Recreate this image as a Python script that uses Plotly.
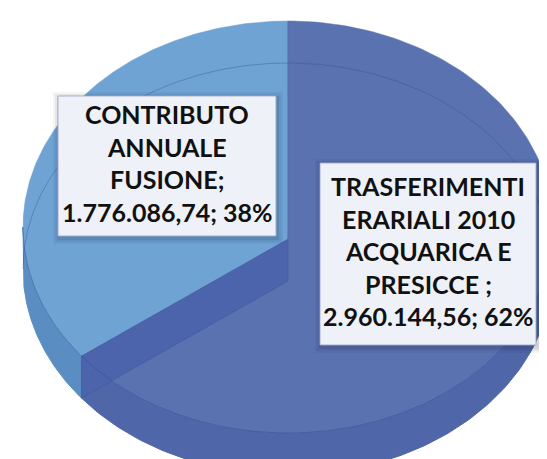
import numpy as np
import plotly.graph_objects as go

# ---- data ----
categories = ["TRASFERIMENTI ERARIALI 2010 ACQUARICA E PRESICCE ", "CONTRIBUTO ANNUALE FUSIONE"]
label_lines = [["TRASFERIMENTI", "ERARIALI 2010", "ACQUARICA E", "PRESICCE "],
               ["CONTRIBUTO", "ANNUALE", "FUSIONE"]]
values = [2960144.56, 1776086.74]

# ---- styles / layout params ----
top_colors = ["#5b72b1", "#6ea3d4"]
side_colors = ["#4f66a8", "#5a8dc1"]
band_color = "#4c64ab"
W, H = 547, 459
CX, CY, RX, RY = 280, 219, 265, 206   # top-face ellipse
VX, VY = 280, 231                     # apex of the wedges
DEPTH = 42
WARP = np.radians(8.8)
label_pos = [(420, 246, 216, 182), (159, 158, 218, 140)]  # x, y, width, height
LINE_STEP = 32.5
TEXT_DY = -3
FONT_SIZE = 25


def phi(theta):
    return theta - WARP * np.sin(theta)


def edge(p, dy=0.0):
    return CX + RX * np.sin(p), CY - RY * np.cos(p) + dy


def it_num(v):
    s = f"{v:,.2f}"
    return s.replace(",", "X").replace(".", ",").replace("X", ".")


total = sum(values)
shares = [v / total for v in values]
bounds = np.concatenate([[0.0], np.cumsum(shares)]) * 2 * np.pi

fig = go.Figure()

# side faces (front half only)
for i in range(len(values)):
    p0, p1 = phi(bounds[i]), phi(bounds[i + 1])
    a, b = max(p0, np.pi / 2), min(p1, 3 * np.pi / 2)
    if b > a:
        ps = np.linspace(a, b, 120)
        xt, yt = edge(ps)
        xb, yb = edge(ps[::-1], DEPTH)
        fig.add_trace(go.Scatter(x=np.r_[xt, xb], y=np.r_[yt, yb], fill="toself",
                                 fillcolor=side_colors[i], mode="lines",
                                 line=dict(color=side_colors[i], width=1),
                                 hoverinfo="skip", showlegend=False))

# top faces
for i in range(len(values)):
    ps = np.linspace(phi(bounds[i]), phi(bounds[i + 1]), 200)
    xe, ye = edge(ps)
    fig.add_trace(go.Scatter(x=np.r_[VX, xe, VX], y=np.r_[VY, ye, VY], fill="toself",
                             fillcolor=top_colors[i], mode="lines",
                             line=dict(color=top_colors[i], width=0.5),
                             hoverinfo="skip", showlegend=False))

# inner wall at slice boundary seen through the top
pb = phi(bounds[1])
bx, by = edge(pb)
fig.add_trace(go.Scatter(x=[VX, bx, bx, VX, VX], y=[VY, by, by + DEPTH, VY + DEPTH, VY],
                         fill="toself", fillcolor=band_color, mode="lines",
                         line=dict(color="rgba(60,80,150,0.5)", width=0.8),
                         hoverinfo="skip", showlegend=False))

# faint back rim of bottom face
ps = np.linspace(-np.pi / 2, np.pi / 2, 200)
xr, yr = edge(ps, DEPTH)
fig.add_trace(go.Scatter(x=xr, y=yr, mode="lines",
                         line=dict(color="rgba(50,70,140,0.35)", width=1),
                         hoverinfo="skip", showlegend=False))
# front edge of top face
ps = np.linspace(np.pi / 2, 3 * np.pi / 2, 200)
xf, yf = edge(ps)
fig.add_trace(go.Scatter(x=xf, y=yf, mode="lines",
                         line=dict(color="rgba(50,70,140,0.45)", width=1),
                         hoverinfo="skip", showlegend=False))

# vertical boundary line
x0, y0 = edge(phi(bounds[0]))
fig.add_trace(go.Scatter(x=[VX, x0], y=[VY, y0], mode="lines",
                         line=dict(color="rgba(70,95,165,0.8)", width=1),
                         hoverinfo="skip", showlegend=False))

# data labels: box + one annotation per line
for i in range(len(values)):
    pct = round(shares[i] * 100)
    lines = label_lines[i][:-1] + [label_lines[i][-1] + ";", f"{it_num(values[i])}; {pct}%"]
    lx, ly, wd, ht = label_pos[i]
    for grow, alpha in [(6, 0.04), (4, 0.06), (2, 0.08)]:
        fig.add_shape(type="rect", xref="x", yref="y", layer="above",
                      x0=lx - wd / 2 - grow + 1, x1=lx + wd / 2 + grow + 1,
                      y0=ly - ht / 2 - grow + 2, y1=ly + ht / 2 + grow + 2,
                      line=dict(width=0), fillcolor=f"rgba(0,0,30,{alpha})")
    fig.add_shape(type="rect", xref="x", yref="y", layer="above",
                  x0=lx - wd / 2, x1=lx + wd / 2, y0=ly - ht / 2, y1=ly + ht / 2,
                  line=dict(width=1, color="rgba(160,170,195,0.9)"), fillcolor="#eef1f8")
    n = len(lines)
    for k, t in enumerate(lines):
        fig.add_annotation(x=lx, y=ly + TEXT_DY + (k - (n - 1) / 2) * LINE_STEP, xref="x", yref="y",
                           text=f"<b>{t}</b>", showarrow=False, xanchor="center", yanchor="middle",
                           font=dict(family="Lato", size=FONT_SIZE, color="#111111"))

fig.update_layout(width=W, height=H, margin=dict(l=0, r=0, t=0, b=0),
                  paper_bgcolor="white", plot_bgcolor="white", showlegend=False,
                  xaxis=dict(range=[0, W], visible=False, fixedrange=True),
                  yaxis=dict(range=[H, 0], visible=False, fixedrange=True))

fig.write_html("out.html")
